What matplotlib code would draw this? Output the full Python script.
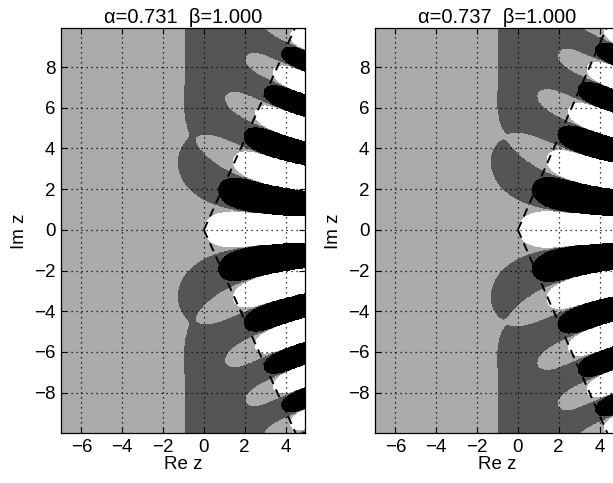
import math
import numpy as np
import matplotlib
matplotlib.use('Agg')
import matplotlib.pyplot as plt
from matplotlib.colors import ListedColormap

plt.rcParams['font.family'] = ['Liberation Sans', 'DejaVu Sans']

# parameters of the two panels
alphas = [0.731, 0.737]
beta = 1.0
x_range = (-7.0, 4.95)
y_range = (-10.0, 9.9)
x_ticks = [-6, -4, -2, 0, 2, 4]
y_ticks = [-8, -6, -4, -2, 0, 2, 4, 6, 8]
# Re E < -1, -1..0, 0..1, > 1
region_colors = ['black', '#555555', '#ababab', 'white']
re_levels = [-1.0, 0.0, 1.0]


def mittag_leffler(z, a, b):
    # E_{a,b}(z): power series near the origin, asymptotic expansion further out
    E = np.zeros_like(z)
    r = np.abs(z)
    near = r < 6.0

    zs = z[near]
    acc = np.zeros_like(zs)
    for k in range(130, -1, -1):
        acc = acc * zs + math.exp(-math.lgamma(a * k + b))
    E[near] = acc

    zl = z[~near]
    asym = np.zeros_like(zl)
    for k in range(1, 17):
        x = b - a * k
        inv_gamma = math.sin(math.pi * x) * math.gamma(1 - x) / math.pi
        asym -= zl ** (-k) * inv_gamma
    sector = np.abs(np.angle(zl)) < a * np.pi
    expo = (1.0 / a) * zl ** ((1 - b) / a) * np.exp(zl ** (1.0 / a))
    asym = asym + np.where(sector, expo, 0)
    E[~near] = asym
    return E


xs = np.linspace(x_range[0], x_range[1], 600)
ys = np.linspace(y_range[0], y_range[1], 1000)
X, Y = np.meshgrid(xs, ys)
Z = X + 1j * Y

fig = plt.figure(figsize=(6.13, 4.83), dpi=100)
positions = [[0.0995, 0.103, 0.398, 0.838], [0.6117, 0.103, 0.398, 0.838]]
fs = 13.5

for a, pos in zip(alphas, positions):
    ax = fig.add_axes(pos)
    E = mittag_leffler(Z, a, beta)
    cat = np.digitize(E.real, re_levels)
    ax.imshow(cat, extent=[x_range[0], x_range[1], y_range[0], y_range[1]],
              origin='lower', cmap=ListedColormap(region_colors),
              vmin=-0.5, vmax=3.5, interpolation='nearest', aspect='auto')

    rr = np.array([0, 15.0])
    th = a * np.pi / 2
    ax.plot(rr * np.cos(th), rr * np.sin(th), color='black', lw=1.4, dashes=(4.5, 3))
    ax.plot(rr * np.cos(th), -rr * np.sin(th), color='black', lw=1.4, dashes=(4.5, 3))

    ax.set_xlim(x_range)
    ax.set_ylim(y_range)
    ax.set_xticks(x_ticks)
    ax.set_yticks(y_ticks)
    ax.set_xticklabels([str(t).replace('-', '\u2212') for t in x_ticks])
    ax.set_yticklabels([str(t).replace('-', '\u2212') for t in y_ticks])
    ax.tick_params(direction='in', top=True, right=True, length=4, width=0.8,
                   labelsize=fs, pad=4)
    ax.grid(True, linestyle=(0, (1, 3)), color='black', linewidth=0.9)
    for s in ax.spines.values():
        s.set_linewidth(0.9)
    ax.set_xlabel('Re z', fontsize=fs, labelpad=0)
    ax.set_ylabel('Im z', fontsize=fs, labelpad=4)
    ax.set_title('\u03b1=%.3f  \u03b2=%.3f' % (a, beta), fontsize=14.5, pad=4)

fig.savefig('out.png', dpi=100)
